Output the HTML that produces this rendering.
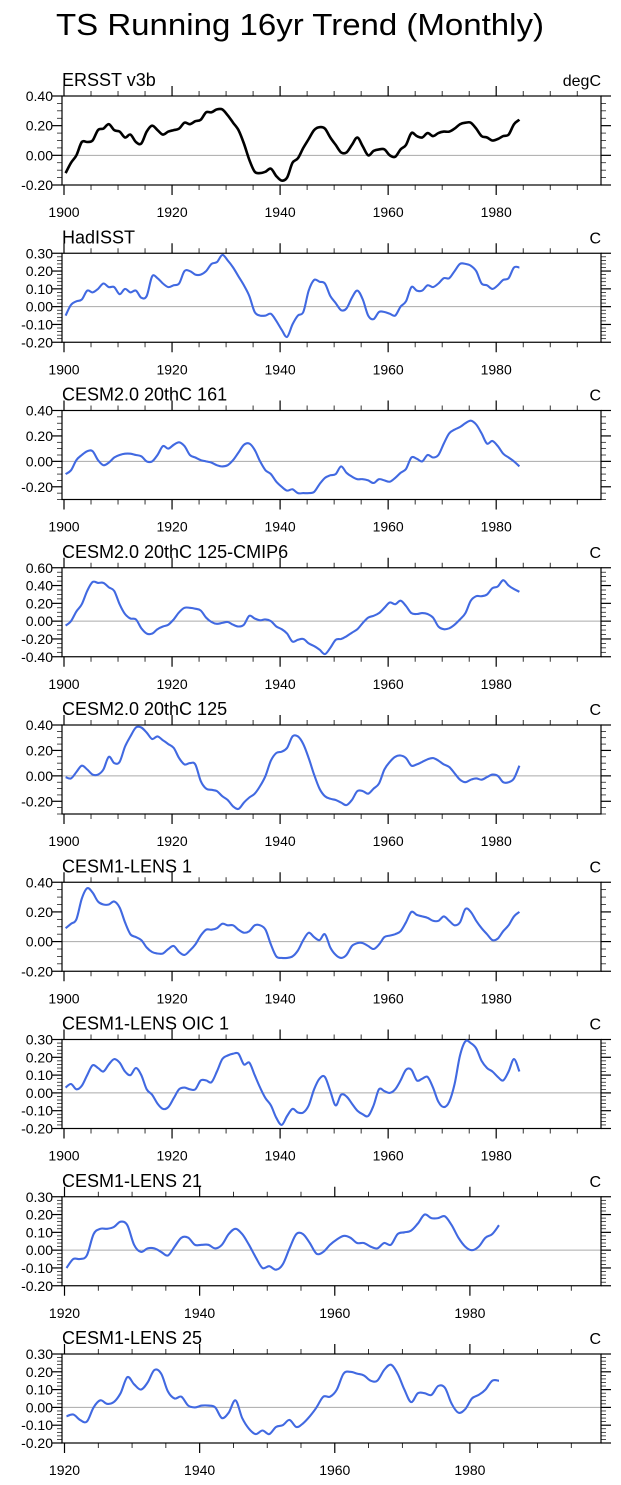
<!DOCTYPE html>
<html><head><meta charset="utf-8"><style>
html,body{margin:0;padding:0;background:#fff;}
svg{display:block;font-family:"Liberation Sans",Arial,sans-serif;}
</style></head><body>
<svg id="chart" width="621" height="1485" viewBox="0 0 621 1485">
<text x="56" y="35" font-size="31" textLength="488" lengthAdjust="spacingAndGlyphs">TS Running 16yr Trend (Monthly)</text>
</svg>
<script>
const titles = ["ERSST v3b","HadISST","CESM2.0 20thC 161","CESM2.0 20thC 125-CMIP6","CESM2.0 20thC 125","CESM1-LENS 1","CESM1-LENS OIC 1","CESM1-LENS 21","CESM1-LENS 25"];
const units = ["degC","C","C","C","C","C","C","C","C"];
const startYears = [1900,1900,1900,1900,1900,1900,1900,1920,1920];
const yMins = [-0.2,-0.2,-0.3,-0.4,-0.3,-0.2,-0.2,-0.2,-0.2];
const yMaxs = [0.4,0.3,0.4,0.6,0.4,0.4,0.3,0.3,0.3];
const yMajors = [0.2,0.1,0.2,0.2,0.2,0.2,0.1,0.1,0.1];
const xTickLabels = [1900,1920,1940,1960,1980];
const s0 = [-0.12,-0.05,0.0,0.09,0.09,0.10,0.17,0.18,0.21,0.17,0.16,0.12,0.14,0.09,0.08,0.16,0.20,0.17,0.14,0.16,0.17,0.18,0.22,0.21,0.23,0.24,0.29,0.29,0.31,0.31,0.27,0.22,0.17,0.08,-0.03,-0.11,-0.12,-0.11,-0.09,-0.14,-0.17,-0.15,-0.05,-0.02,0.05,0.11,0.17,0.19,0.18,0.12,0.07,0.02,0.02,0.07,0.12,0.06,0.0,0.03,0.04,0.04,0.0,-0.01,0.04,0.07,0.15,0.13,0.12,0.15,0.13,0.15,0.16,0.16,0.18,0.21,0.22,0.22,0.18,0.13,0.12,0.10,0.11,0.13,0.14,0.21,0.24];
const s1 = [-0.05,0.01,0.03,0.04,0.09,0.08,0.10,0.13,0.11,0.11,0.07,0.10,0.08,0.09,0.05,0.06,0.17,0.16,0.13,0.11,0.12,0.13,0.20,0.20,0.18,0.18,0.20,0.24,0.25,0.29,0.26,0.22,0.17,0.12,0.06,-0.03,-0.05,-0.05,-0.04,-0.08,-0.13,-0.17,-0.10,-0.05,-0.03,0.09,0.15,0.14,0.13,0.06,0.02,-0.02,-0.01,0.05,0.09,0.04,-0.05,-0.07,-0.03,-0.03,-0.04,-0.05,0.0,0.03,0.11,0.09,0.09,0.12,0.11,0.13,0.16,0.16,0.20,0.24,0.24,0.23,0.20,0.13,0.12,0.10,0.12,0.15,0.16,0.22,0.22];
const s2 = [-0.10,-0.07,0.01,0.05,0.08,0.08,0.01,-0.03,-0.01,0.03,0.05,0.06,0.06,0.05,0.04,0.0,0.0,0.05,0.12,0.10,0.13,0.15,0.12,0.05,0.03,0.01,0.0,-0.01,-0.03,-0.04,-0.03,0.01,0.07,0.13,0.14,0.09,0.0,-0.07,-0.10,-0.16,-0.20,-0.23,-0.22,-0.25,-0.25,-0.25,-0.24,-0.18,-0.13,-0.11,-0.10,-0.04,-0.09,-0.12,-0.14,-0.14,-0.15,-0.17,-0.14,-0.15,-0.16,-0.13,-0.09,-0.06,0.03,0.02,0.0,0.05,0.03,0.05,0.14,0.22,0.25,0.27,0.30,0.32,0.29,0.22,0.14,0.16,0.12,0.06,0.03,0.0,-0.04];
const s3 = [-0.05,0.0,0.11,0.19,0.34,0.44,0.43,0.43,0.38,0.34,0.19,0.08,0.03,0.02,-0.08,-0.14,-0.14,-0.09,-0.06,-0.04,0.02,0.10,0.15,0.15,0.14,0.12,0.04,-0.01,-0.03,-0.02,-0.01,-0.04,-0.06,-0.04,0.06,0.03,0.01,0.02,0.0,-0.06,-0.09,-0.14,-0.23,-0.21,-0.20,-0.25,-0.28,-0.32,-0.37,-0.30,-0.21,-0.20,-0.17,-0.13,-0.09,-0.02,0.04,0.06,0.09,0.15,0.21,0.19,0.23,0.17,0.09,0.08,0.09,0.08,0.04,-0.06,-0.09,-0.08,-0.04,0.02,0.09,0.23,0.28,0.28,0.30,0.37,0.39,0.46,0.40,0.36,0.33];
const s4 = [-0.01,-0.02,0.03,0.08,0.05,0.01,0.01,0.05,0.15,0.10,0.11,0.23,0.31,0.38,0.38,0.34,0.29,0.31,0.28,0.25,0.22,0.14,0.09,0.10,0.09,-0.04,-0.10,-0.11,-0.12,-0.16,-0.19,-0.24,-0.26,-0.21,-0.17,-0.14,-0.08,0.0,0.12,0.18,0.19,0.22,0.31,0.31,0.25,0.14,0.01,-0.10,-0.16,-0.18,-0.19,-0.21,-0.23,-0.19,-0.12,-0.12,-0.14,-0.10,-0.06,0.05,0.11,0.15,0.16,0.14,0.08,0.09,0.11,0.13,0.14,0.12,0.09,0.07,0.02,-0.03,-0.05,-0.03,-0.02,-0.03,-0.01,0.01,0.0,-0.05,-0.05,-0.02,0.08];
const s5 = [0.09,0.12,0.15,0.29,0.36,0.33,0.27,0.25,0.25,0.27,0.23,0.13,0.05,0.03,0.01,-0.04,-0.07,-0.08,-0.08,-0.05,-0.03,-0.07,-0.09,-0.06,-0.02,0.04,0.08,0.08,0.09,0.12,0.11,0.11,0.08,0.06,0.07,0.11,0.11,0.08,-0.02,-0.10,-0.11,-0.11,-0.10,-0.06,0.01,0.06,0.03,0.01,0.05,-0.04,-0.09,-0.11,-0.09,-0.03,-0.01,-0.01,-0.03,-0.05,-0.02,0.03,0.04,0.05,0.07,0.13,0.20,0.18,0.17,0.16,0.14,0.14,0.17,0.14,0.11,0.13,0.22,0.20,0.14,0.09,0.05,0.01,0.02,0.07,0.11,0.17,0.20];
const s6 = [0.03,0.05,0.02,0.04,0.10,0.155,0.14,0.12,0.16,0.19,0.17,0.12,0.10,0.14,0.10,0.02,-0.01,-0.06,-0.09,-0.08,-0.03,0.02,0.03,0.02,0.02,0.07,0.07,0.06,0.12,0.19,0.21,0.22,0.22,0.16,0.17,0.10,0.03,-0.03,-0.07,-0.14,-0.18,-0.13,-0.09,-0.11,-0.11,-0.07,0.02,0.08,0.09,0.01,-0.07,-0.01,-0.02,-0.06,-0.10,-0.12,-0.13,-0.07,0.02,0.01,0.0,0.02,0.07,0.13,0.13,0.07,0.08,0.09,0.03,-0.05,-0.08,-0.05,0.05,0.21,0.29,0.28,0.25,0.18,0.14,0.12,0.09,0.07,0.12,0.19,0.12];
const s7 = [-0.10,-0.05,-0.05,-0.03,0.09,0.12,0.12,0.13,0.16,0.14,0.03,-0.01,0.01,0.01,-0.01,-0.03,0.02,0.07,0.07,0.03,0.03,0.03,0.01,0.03,0.09,0.12,0.09,0.03,-0.04,-0.10,-0.09,-0.11,-0.08,0.01,0.09,0.09,0.04,-0.02,-0.01,0.03,0.06,0.08,0.07,0.04,0.04,0.02,0.01,0.04,0.03,0.09,0.10,0.11,0.15,0.20,0.18,0.18,0.19,0.14,0.07,0.02,0.0,0.02,0.07,0.09,0.14];
const s8 = [-0.05,-0.04,-0.07,-0.08,0.0,0.04,0.02,0.03,0.08,0.17,0.13,0.10,0.14,0.21,0.19,0.09,0.05,0.06,0.01,0.0,0.01,0.01,0.0,-0.06,-0.03,0.04,-0.06,-0.12,-0.15,-0.13,-0.15,-0.11,-0.10,-0.07,-0.11,-0.09,-0.05,0.0,0.06,0.06,0.10,0.19,0.20,0.19,0.18,0.15,0.15,0.21,0.24,0.19,0.10,0.03,0.08,0.08,0.07,0.12,0.11,0.02,-0.03,-0.01,0.05,0.07,0.10,0.15,0.15];
const series = [s0,s1,s2,s3,s4,s5,s6,s7,s8];
const colors = ["#000000","#4169e1","#4169e1","#4169e1","#4169e1","#4169e1","#4169e1","#4169e1","#4169e1"];

const NS = "http://www.w3.org/2000/svg";
const svg = document.getElementById("chart");
const L = 62, R = 601, H = 89;
function mk(tag, attrs, parent){ const e = document.createElementNS(NS, tag); for (const k in attrs) e.setAttribute(k, attrs[k]); (parent||svg).appendChild(e); return e; }
function fmt(v){ const r = Math.round(v*100)/100; return (r<0?"-":"") + Math.abs(r).toFixed(2); }
function smooth(pts){
  let d = "M" + pts[0][0].toFixed(1) + "," + pts[0][1].toFixed(1);
  for (let i = 0; i < pts.length - 1; i++) {
    const p0 = pts[Math.max(0,i-1)], p1 = pts[i], p2 = pts[i+1], p3 = pts[Math.min(pts.length-1,i+2)];
    const c1x = p1[0] + (p2[0]-p0[0])/6, c1y = p1[1] + (p2[1]-p0[1])/6;
    const c2x = p2[0] - (p3[0]-p1[0])/6, c2y = p2[1] - (p3[1]-p1[1])/6;
    d += "C" + c1x.toFixed(1) + "," + c1y.toFixed(1) + " " + c2x.toFixed(1) + "," + c2y.toFixed(1) + " " + p2[0].toFixed(1) + "," + p2[1].toFixed(1);
  }
  return d;
}

for (let p = 0; p < 9; p++) {
  const top = 96 + p*157.25, bot = top + H;
  const x0 = startYears[p] - 0.37, x1 = 1999.4;
  const xs = v => L + (v - x0) / (x1 - x0) * (R - L);
  const ys = v => bot - (v - yMins[p]) / (yMaxs[p] - yMins[p]) * H;
  const g = mk("g", {});
  
  

  const t = mk("text", {x: L, y: top - 10, "font-size": 18}, g);
  t.textContent = titles[p];
  
  
  const u = mk("text", {x: R, y: top - 10, "font-size": 16, "text-anchor": "end"}, g);
  u.textContent = units[p];
  
  

  const z = mk("line", {x1: L, x2: R, y1: ys(0), y2: ys(0), stroke: "#aaa", "stroke-width": 1}, g);
  
  

  for (let yr = Math.ceil(x0/5)*5; yr <= x1; yr += 5) {
    const major = yr % 20 === 0; const len = major ? 10 : 5; const x = xs(yr);
    mk("line", {x1: x, x2: x, y1: top, y2: top - len, stroke: "#000", "stroke-width": major ? 1.2 : 0.8}, g);
    mk("line", {x1: x, x2: x, y1: bot, y2: bot + len, stroke: "#000", "stroke-width": major ? 1.2 : 0.8}, g);
  }
  for (const yr of xTickLabels) {
    if (yr < x0) continue;
    const xl = mk("text", {x: xs(yr), y: bot + 32, "font-size": 14, "text-anchor": "middle"}, g);
    xl.textContent = yr;
    
    
  }
  const maj = yMajors[p], minor = maj > 0.15 ? maj/4 : maj/5;
  const nmin = Math.round((yMaxs[p] - yMins[p]) / minor);
  for (let i = 0; i <= nmin; i++) {
    const v = yMins[p] + i*minor; const y = ys(v);
    const isMaj = Math.abs(v/maj - Math.round(v/maj)) < 1e-6; const len = isMaj ? 10 : 5;
    mk("line", {x1: L, x2: L - len, y1: y, y2: y, stroke: "#000", "stroke-width": isMaj ? 1.2 : 0.7}, g);
    mk("line", {x1: R, x2: R + len, y1: y, y2: y, stroke: "#000", "stroke-width": isMaj ? 1.2 : 0.7}, g);
    if (isMaj) {
      const yl = mk("text", {x: 53, y: y + 5, "font-size": 14, "text-anchor": "end"}, g);
      yl.textContent = fmt(v);
      
      
    }
  }
  const box = mk("rect", {x: L, y: top, width: R - L, height: H, fill: "none", stroke: "#000", "stroke-width": 1.2}, g);
  
  

  const pts = series[p].map((v, i) => [xs(startYears[p] + i + 0.3), ys(v)]);
  const line = mk("path", {d: smooth(pts), fill: "none", stroke: colors[p], "stroke-width": p === 0 ? 2.6 : 2.1, "stroke-linejoin": "round"}, g);
  
  
}
</script>
</body></html>
